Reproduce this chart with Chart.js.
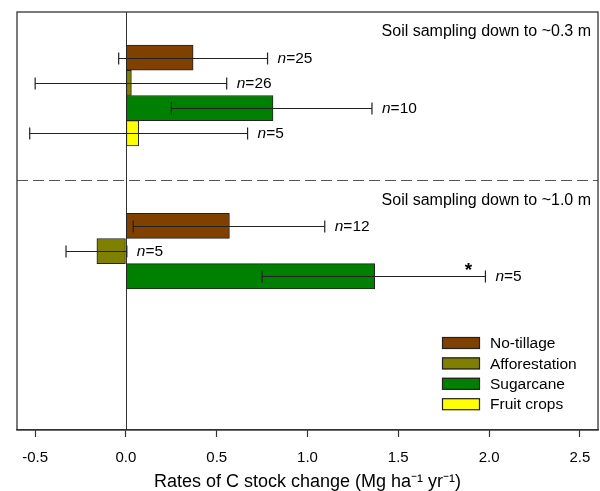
<!DOCTYPE html>
<html>
<head>
<meta charset="utf-8">
<script src="https://cdn.jsdelivr.net/npm/chart.js@4"></script>
<style>
  html, body { margin: 0; padding: 0; background: #ffffff; }
  #wrap { width: 600px; height: 491px; }
</style>
</head>
<body>
<div id="wrap"><canvas id="c" width="600" height="491"></canvas></div>
<script>
// ---------------- data ----------------
const categories = ['No-tillage', 'Afforestation', 'Sugarcane', 'Fruit crops'];
const depthLabels = ['Soil sampling down to ~0.3 m', 'Soil sampling down to ~1.0 m'];
// sampling down to ~0.3 m
const rate03 = [0.37, 0.03, 0.81, 0.07];
const low03  = [-0.04, -0.50, 0.25, -0.53];
const high03 = [0.78, 0.555, 1.355, 0.67];
const n03    = [25, 26, 10, 5];
// sampling down to ~1.0 m
const rate10 = [0.57, -0.16, 1.37, null];
const low10  = [0.04, -0.33, 0.75, null];
const high10 = [1.095, 0.005, 1.98, null];
const n10    = [12, 5, 5, null];
const sig10  = [false, false, true, false];
const xTicks = [-0.5, 0.0, 0.5, 1.0, 1.5, 2.0, 2.5];
const xTitle = 'Rates of C stock change (Mg ha\u207B\u00B9 yr\u207B\u00B9)';

// ---------------- styles / layout ----------------
const colors = ['#804000', '#808000', '#008000', '#ffff00'];
const edge = '#222222';
const FONT = '"Liberation Sans", Arial, Helvetica, sans-serif';
const panelStart = [1.81, 8.48];   // first row of each panel (row units)
const dividerPos = 6.655;
const panelLabelPos = [0.78, 7.48];
const yMax = 16.575;

const rates = [rate03, rate10], lows = [low03, low10], highs = [high03, high10], ns = [n03, n10];
const sigs = [[false, false, false, false], sig10];

function rowPos(k, i) { return panelStart[k] + i; }

const datasets = categories.map((cat, c) => {
  const data = [];
  const meta = [];
  for (let k = 0; k < 2; k++) {
    if (rates[k][c] === null || rates[k][c] === undefined) continue;
    data.push({ x: rates[k][c], y: rowPos(k, c) });
    meta.push({ lo: lows[k][c], hi: highs[k][c], n: ns[k][c], sig: sigs[k][c] });
  }
  return {
    label: cat,
    data,
    errMeta: meta,
    backgroundColor: colors[c],
    borderColor: edge,
    borderWidth: 1,
    borderSkipped: false,
    barThickness: 25.2,
    grouped: false
  };
});

const decorPlugin = {
  id: 'decor',
  beforeDatasetsDraw(chart) {
    const { ctx, chartArea: a, scales: { x, y } } = chart;
    ctx.save();
    // zero line
    ctx.strokeStyle = '#333';
    ctx.lineWidth = 1;
    const x0 = Math.round(x.getPixelForValue(0)) + 0.5;
    ctx.beginPath(); ctx.moveTo(x0, a.top); ctx.lineTo(x0, a.bottom); ctx.stroke();
    // divider
    const yd = Math.round(y.getPixelForValue(dividerPos)) + 0.5;
    ctx.strokeStyle = '#555';
    ctx.setLineDash([11, 5]);
    ctx.beginPath(); ctx.moveTo(a.left, yd); ctx.lineTo(a.right, yd); ctx.stroke();
    ctx.setLineDash([]);
    ctx.restore();
  },
  afterDatasetsDraw(chart) {
    const { ctx, chartArea: a, scales: { x, y } } = chart;
    ctx.save();
    // error bars & n labels
    chart.data.datasets.forEach((ds, di) => {
      const meta = chart.getDatasetMeta(di);
      meta.data.forEach((el, j) => {
        const m = ds.errMeta[j];
        const yc = Math.round(el.y) + 0.5;
        const xl = x.getPixelForValue(m.lo), xh = x.getPixelForValue(m.hi);
        ctx.strokeStyle = '#222';
        ctx.lineWidth = 1.2;
        ctx.beginPath();
        ctx.moveTo(xl, yc); ctx.lineTo(xh, yc);
        ctx.moveTo(xl, yc - 6); ctx.lineTo(xl, yc + 6);
        ctx.moveTo(xh, yc - 6); ctx.lineTo(xh, yc + 6);
        ctx.stroke();
        // label
        ctx.fillStyle = '#000';
        ctx.textBaseline = 'middle';
        ctx.textAlign = 'left';
        let tx = xh + 10;
        ctx.font = 'italic 15.5px ' + FONT;
        ctx.fillText('n', tx, yc);
        tx += ctx.measureText('n').width;
        ctx.font = '15.5px ' + FONT;
        ctx.fillText('=' + m.n, tx, yc);
        if (m.sig) {
          ctx.font = 'bold 19px ' + FONT;
          ctx.textAlign = 'center';
          ctx.textBaseline = 'alphabetic';
          ctx.fillText('*', xh - 17, yc - 1);
        }
      });
    });
    // panel labels
    ctx.font = '16px ' + FONT;
    ctx.fillStyle = '#000';
    ctx.textAlign = 'right';
    ctx.textBaseline = 'middle';
    depthLabels.forEach((t, k) => {
      ctx.fillText(t, a.right - 7, y.getPixelForValue(panelLabelPos[k]));
    });
    // legend
    const lx = 442, ly0 = 343, lh = 20.4;
    ctx.font = '15.5px ' + FONT;
    ctx.textAlign = 'left';
    categories.forEach((cat, c) => {
      const cy = ly0 + c * lh;
      ctx.fillStyle = colors[c];
      ctx.fillRect(lx, cy - 6, 38, 12);
      ctx.strokeStyle = edge;
      ctx.lineWidth = 1.2;
      ctx.strokeRect(lx + 0.5, cy - 6 + 0.5, 37, 11);
      ctx.fillStyle = '#000';
      ctx.fillText(cat, lx + 48, cy + 1);
    });
    // frame
    ctx.strokeStyle = '#333';
    ctx.lineWidth = 1.3;
    ctx.strokeRect(a.left, a.top, a.right - a.left, a.bottom - a.top);
    ctx.restore();
  }
};

new Chart(document.getElementById('c'), {
  type: 'bar',
  data: { datasets },
  options: {
    indexAxis: 'y',
    responsive: false,
    animation: false,
    devicePixelRatio: 1,
    events: [],
    layout: { padding: { left: 17, right: 2, top: 12, bottom: 0 } },
    plugins: { legend: { display: false }, tooltip: { enabled: false } },
    scales: {
      x: {
        type: 'linear',
        min: -0.6,
        max: 2.6,
        afterBuildTicks: (s) => { s.ticks = xTicks.map(v => ({ value: v })); },
        ticks: {
          color: '#000',
          font: { family: FONT, size: 15, lineHeight: 2.4 },
          padding: 3,
          callback: (v) => Number(v).toFixed(1)
        },
        grid: { drawOnChartArea: false, drawTicks: true, tickLength: 7, color: '#333', tickColor: '#333', tickWidth: 1.2 },
        border: { display: true, color: '#333', width: 1.3 },
        title: {
          display: true,
          text: xTitle,
          color: '#000',
          font: { family: FONT, size: 18, lineHeight: 0.389 },
          padding: { top: 0, bottom: 5 }
        }
      },
      y: {
        type: 'linear',
        display: false,
        reverse: true,
        offset: false,
        min: 0,
        max: yMax
      }
    }
  },
  plugins: [decorPlugin]
});
</script>
</body>
</html>
